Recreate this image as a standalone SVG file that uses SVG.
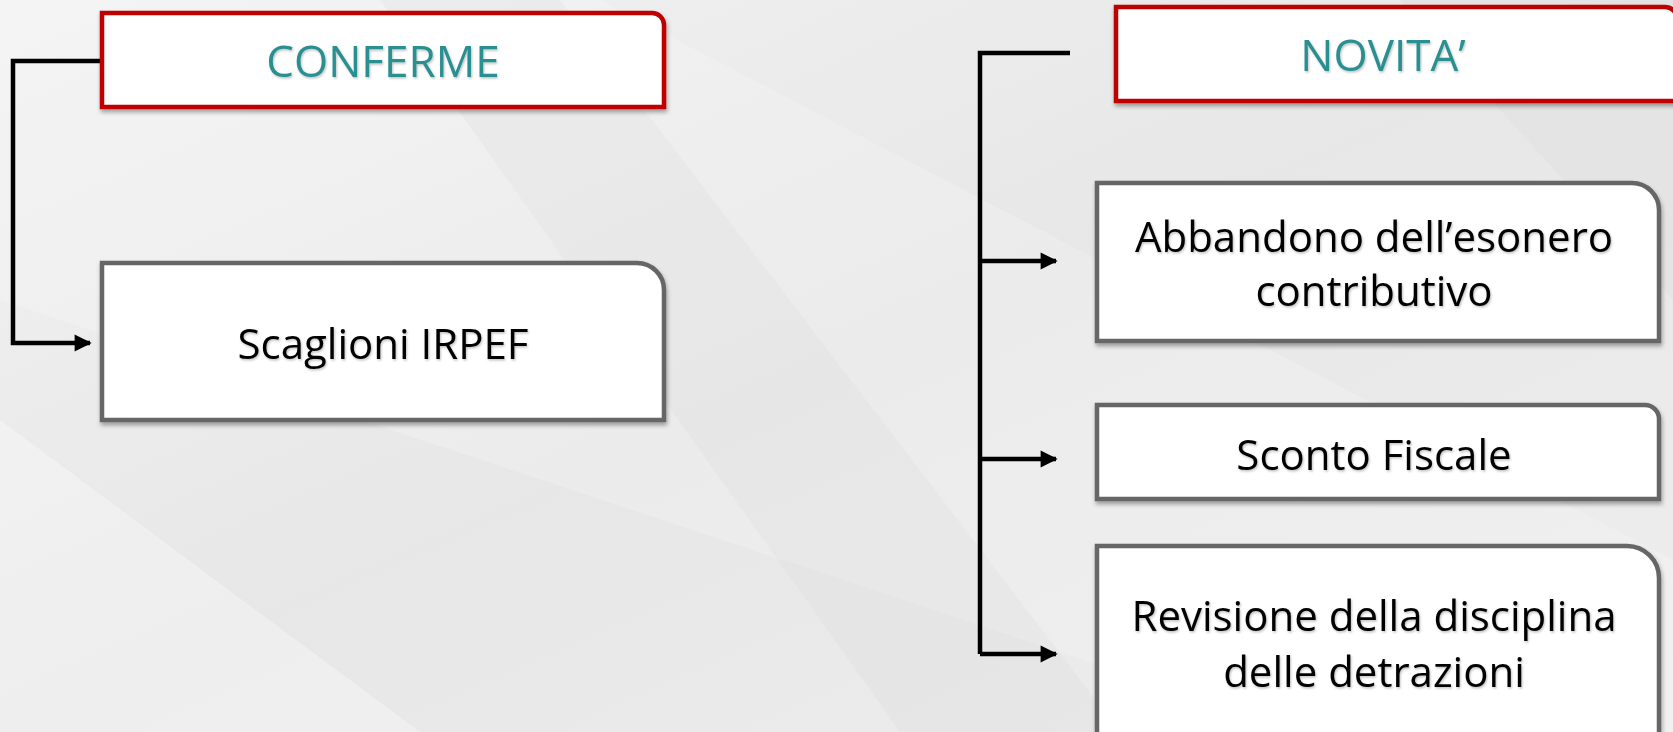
<svg xmlns="http://www.w3.org/2000/svg" width="1673" height="732" viewBox="0 0 1673 732">
<defs>
<linearGradient id="bg" x1="0" y1="0" x2="1" y2="1">
<stop offset="0" stop-color="#f2f2f2"/>
<stop offset="0.5" stop-color="#e7e7e8"/>
<stop offset="1" stop-color="#eeeeee"/>
</linearGradient>
<filter id="sh" x="-5%" y="-5%" width="110%" height="115%">
<feDropShadow dx="1" dy="3" stdDeviation="2" flood-color="#000" flood-opacity="0.35"/>
</filter>
<filter id="tsh" x="-5%" y="-10%" width="110%" height="130%">
<feDropShadow dx="1" dy="1.5" stdDeviation="1" flood-color="#000" flood-opacity="0.25"/>
</filter>
<marker id="ah" viewBox="0 0 10 10" refX="9" refY="5" markerWidth="4.2" markerHeight="3.8" orient="auto" markerUnits="strokeWidth">
<path d="M0,0 L10,5 L0,10 Z" fill="#000"/>
</marker>
<style>
.red{fill:#fff;stroke:#c00000;stroke-width:4.5;}
.gray{fill:#fff;stroke:#666;stroke-width:4.5;}
.title{font-family:"Open Sans","Noto Sans",sans-serif;font-size:44px;fill:#2b8f90;text-anchor:middle;}
.lbl{font-family:"Open Sans","Noto Sans",sans-serif;font-size:42px;fill:#000;text-anchor:middle;}
.ln{fill:none;stroke:#000;stroke-width:4.5;}
</style>
</defs>
<rect width="1673" height="732" fill="url(#bg)"/>
<polygon points="0,0 600,0 1673,560 1673,732 1300,732 0,300" fill="#ffffff" opacity="0.18"/>
<polygon points="380,0 560,0 1120,732 900,732" fill="#d0d0d2" opacity="0.18"/>
<polygon points="0,420 0,732 420,732" fill="#ffffff" opacity="0.3"/>
<polygon points="1400,0 1673,0 1673,300" fill="#d6d6d8" opacity="0.25"/>

<g id="connectors">
<path class="ln" d="M102,61 H13 V343 H90" marker-end="url(#ah)"/>
<path class="ln" d="M1070,53 H980 V654"/>
<path class="ln" d="M980,261 H1056" marker-end="url(#ah)"/>
<path class="ln" d="M980,459 H1056" marker-end="url(#ah)"/>
<path class="ln" d="M980,654 H1056" marker-end="url(#ah)"/>
</g>

<g id="conferme" filter="url(#sh)">
<path class="red" d="M102,13 H652 A12,12 0 0 1 664,25 V107 H102 Z"/>
<text class="title" x="383" y="77" filter="url(#tsh)">CONFERME</text>
</g>
<g id="scaglioni" filter="url(#sh)">
<path class="gray" d="M102,263 H637 A27,27 0 0 1 664,290 V420 H102 Z"/>
<text class="lbl" x="383" y="359" filter="url(#tsh)">Scaglioni IRPEF</text>
</g>

<g id="novita" filter="url(#sh)">
<path class="red" d="M1116,7 H1665 A12,12 0 0 1 1677,19 V101 H1116 Z"/>
<text class="title" x="1383" y="71" filter="url(#tsh)">NOVITA’</text>
</g>
<g id="abbandono" filter="url(#sh)">
<path class="gray" d="M1097,183 H1632 A27,27 0 0 1 1659,210 V341 H1097 Z"/>
<text class="lbl" x="1374" y="252" filter="url(#tsh)">Abbandono dell’esonero</text>
<text class="lbl" x="1374" y="306" filter="url(#tsh)">contributivo</text>
</g>
<g id="sconto" filter="url(#sh)">
<path class="gray" d="M1097,405 H1645 A14,14 0 0 1 1659,419 V499 H1097 Z"/>
<text class="lbl" x="1374" y="470" filter="url(#tsh)">Sconto Fiscale</text>
</g>
<g id="revisione" filter="url(#sh)">
<path class="gray" d="M1097,546 H1627 A32,32 0 0 1 1659,578 V745 H1097 Z"/>
<text class="lbl" x="1374" y="631" filter="url(#tsh)">Revisione della disciplina</text>
<text class="lbl" x="1374" y="687" filter="url(#tsh)">delle detrazioni</text>
</g>
</svg>
